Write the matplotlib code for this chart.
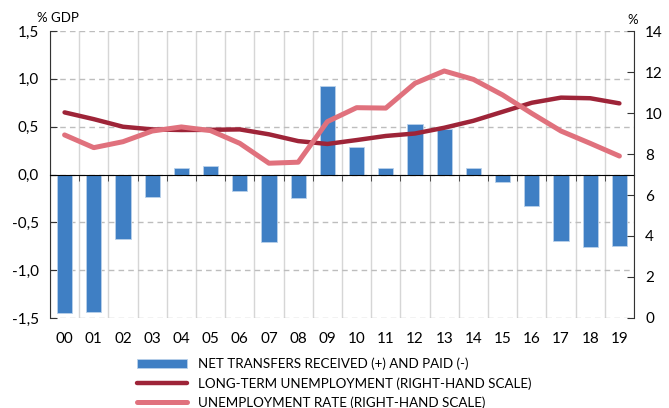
import matplotlib
matplotlib.use("Agg")
import matplotlib.pyplot as plt
import matplotlib.ticker as mticker
import numpy as np

plt.rcParams["font.family"] = ["Lato", "DejaVu Sans"]

years = ["00", "01", "02", "03", "04", "05", "06", "07", "08", "09",
         "10", "11", "12", "13", "14", "15", "16", "17", "18", "19"]
net_transfers = [-1.45, -1.44, -0.67, -0.23, 0.07, 0.09, -0.17, -0.71, -0.25, 0.92,
                 0.29, 0.07, 0.53, 0.48, 0.07, -0.08, -0.33, -0.70, -0.76, -0.75]
long_term_unemp = [10.03, 9.70, 9.33, 9.20, 9.17, 9.18, 9.20, 8.96, 8.63, 8.49,
                   8.68, 8.88, 9.00, 9.28, 9.62, 10.06, 10.50, 10.75, 10.72, 10.47]
unemp_rate = [8.93, 8.31, 8.60, 9.12, 9.32, 9.14, 8.52, 7.55, 7.60, 9.58,
              10.26, 10.24, 11.45, 12.05, 11.64, 10.88, 9.98, 9.12, 8.52, 7.90]

bar_color = "#3F7FC4"
dark_red = "#9E2438"
pink = "#E0717D"

x = np.arange(len(years))

fig = plt.figure(figsize=(6.69, 4.08), dpi=100)
ax = fig.add_axes([0.0747, 0.2206, 0.873, 0.7034])

bars = ax.bar(x, net_transfers, width=0.52, color=bar_color, edgecolor="#B9D1EA",
              linewidth=0.6, zorder=2)

ax.set_xlim(-0.5, len(years) - 0.5)
ax.set_ylim(-1.5, 1.5)
ax.set_yticks(np.arange(-1.5, 1.51, 0.5))
ax.yaxis.set_major_formatter(mticker.FuncFormatter(lambda v, p: f"{v:.1f}".replace(".", ",")))
ax.tick_params(axis="y", direction="in", length=5, labelsize=11, pad=8, color="#333333")

# x axis line at zero with ticks at boundaries
ax.spines["bottom"].set_position(("data", 0))
ax.spines["top"].set_visible(False)
ax.spines["right"].set_visible(False)
ax.spines["left"].set_color("#333333")
ax.set_xticks(np.arange(-0.5, len(years), 1.0), minor=True)
ax.set_xticks([])
ax.tick_params(axis="x", which="minor", direction="out", length=4, color="#333333")
ax.grid(axis="x", which="minor", color="#D6D6D6", linewidth=1, linestyle="-", zorder=0)
ax.grid(axis="y", which="major", color="#BDBDBD", linewidth=1, linestyle=(0, (4, 3)), zorder=0)
ax.set_axisbelow(True)

sec = ax.secondary_xaxis(0.0)
sec.set_xticks(x, years)
sec.tick_params(length=0, labelsize=11, pad=10)
sec.spines["bottom"].set_visible(False)

ax2 = ax.twinx()
ax2.plot(x, long_term_unemp, color=dark_red, linewidth=3.2, solid_capstyle="round",
         label="LONG-TERM UNEMPLOYMENT (RIGHT-HAND SCALE)")
ax2.plot(x, unemp_rate, color=pink, linewidth=3.6, solid_capstyle="round",
         label="UNEMPLOYMENT RATE (RIGHT-HAND SCALE)")
ax2.set_ylim(0, 14)
ax2.set_yticks(np.arange(0, 15, 2))
ax2.tick_params(axis="y", direction="in", length=5, labelsize=11, pad=8, color="#333333")
for s in ["top", "left", "bottom"]:
    ax2.spines[s].set_visible(False)
ax2.spines["right"].set_color("#333333")

fig.text(0.055, 0.955, "% GDP", fontsize=9.5, ha="left", va="center")
fig.text(0.938, 0.952, "%", fontsize=9.5, ha="left", va="center")

handles = [bars] + ax2.get_lines()
labels = ["NET TRANSFERS RECEIVED (+) AND PAID (-)",
          "LONG-TERM UNEMPLOYMENT (RIGHT-HAND SCALE)",
          "UNEMPLOYMENT RATE (RIGHT-HAND SCALE)"]
fig.legend(handles, labels, loc="upper left", bbox_to_anchor=(0.205, 0.123),
           frameon=False, fontsize=9.6, handlelength=3.75, handleheight=0.7,
           labelspacing=0.5, handletextpad=0.83, borderpad=0, borderaxespad=0)

fig.savefig("out.png", dpi=100)
